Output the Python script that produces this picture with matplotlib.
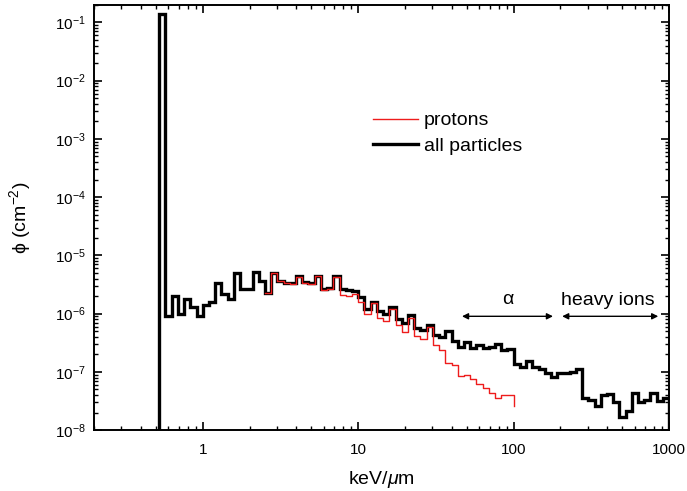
import matplotlib
matplotlib.use("Agg")
import matplotlib.pyplot as plt
from matplotlib.ticker import NullFormatter
import numpy as np

plt.rcParams['font.family'] = ['Liberation Sans', 'DejaVu Sans']
plt.rcParams['mathtext.fontset'] = 'custom'
plt.rcParams['mathtext.rm'] = 'Liberation Sans'
plt.rcParams['mathtext.it'] = 'Liberation Sans:italic'

# log bins, 25 per decade (edge k -> 10**(0.04*k))
bin_step = 0.04
k_all = np.arange(-7, 76)      # edges for all particles
k_prot = np.arange(10, 51)     # edges for protons

all_particles = [
    0.14, 9.0e-7, 2.0e-6, 1.0e-6, 1.8e-6, 1.3e-6, 9.0e-7,
    1.4e-6, 1.6e-6, 3.3e-6, 2.2e-6, 1.8e-6, 5.0e-6, 2.6e-6, 2.7e-6, 5.1e-6, 3.7e-6,
    2.3e-6, 5.0e-6, 3.6e-6, 3.4e-6, 3.3e-6, 4.4e-6, 3.5e-6, 3.4e-6, 4.5e-6, 2.7e-6,
    2.8e-6, 4.4e-6, 2.6e-6, 2.5e-6, 2.4e-6, 1.9e-6, 1.2e-6, 1.6e-6, 1.1e-6, 1.0e-6,
    1.3e-6, 8.0e-7, 7.0e-7, 9.5e-7, 5.6e-7, 5.2e-7, 6.3e-7, 4.3e-7, 4.0e-7, 5.0e-7,
    3.4e-7, 2.7e-7, 3.2e-7, 2.6e-7, 2.9e-7, 2.6e-7, 2.7e-7, 3.0e-7, 2.4e-7, 2.5e-7,
    1.35e-7, 1.2e-7, 1.55e-7, 1.2e-7, 1.1e-7, 9.5e-8, 8.3e-8, 9.5e-8, 9.5e-8, 1.0e-7,
    1.1e-7, 3.6e-8, 3.3e-8, 2.6e-8, 4.0e-8, 4.2e-8, 3.0e-8, 1.7e-8, 2.1e-8, 4.3e-8,
    3.0e-8, 3.3e-8, 4.4e-8, 3.2e-8, 3.5e-8,
]

protons = [
    2.3e-6, 5.0e-6, 3.6e-6, 3.3e-6, 3.2e-6, 4.3e-6, 3.3e-6, 3.2e-6, 4.4e-6, 2.5e-6,
    2.6e-6, 4.2e-6, 2.1e-6, 2.0e-6, 2.2e-6, 1.6e-6, 1.0e-6, 1.5e-6, 8.5e-7, 7.5e-7,
    1.2e-6, 6.5e-7, 4.8e-7, 8.5e-7, 4.2e-7, 3.6e-7, 5.8e-7, 2.9e-7, 2.4e-7, 1.4e-7,
    1.3e-7, 8.5e-8, 9.0e-8, 7.5e-8, 6.2e-8, 5.2e-8, 4.4e-8, 3.5e-8, 4.0e-8, 4.0e-8,
]
proton_tail = 2.6e-8

edges_all = 10 ** (k_all * bin_step)
edges_prot = 10 ** (k_prot * bin_step)

fig = plt.figure(figsize=(6.87, 4.91), dpi=100)
ax = fig.add_axes([0.137, 0.124, 0.837, 0.866])

# protons: open step line with a short drop at the last edge
xs = np.repeat(edges_prot, 2)[1:-1]
ys = np.repeat(protons, 2)
xs = np.append(xs, edges_prot[-1])
ys = np.append(ys, proton_tail)
ax.plot(xs, ys, color='#ee1c1c', lw=1.0, label='protons')

ax.stairs(all_particles, edges_all, baseline=1e-9, color='k', lw=2.4,
          label='all particles')

ax.set_xscale('log')
ax.set_yscale('log')
ax.set_xlim(0.2, 1000)
ax.set_ylim(1e-8, 0.2)
ax.set_xticks([1, 10, 100, 1000])
ax.set_xticklabels(['1', '10', '100', '1000'])
ax.xaxis.set_minor_formatter(NullFormatter())
ax.yaxis.set_minor_formatter(NullFormatter())

ax.tick_params(which='both', direction='in', top=True, right=True, labelsize=11)
ax.tick_params(axis='x', which='major', pad=9)
ax.tick_params(axis='y', which='major', pad=6)
ax.tick_params(which='major', length=6, width=1.2)
ax.tick_params(which='minor', length=3, width=1.0)
for s in ax.spines.values():
    s.set_linewidth(1.4)

ax.set_xlabel('keV/$\\mu$m', fontsize=14, labelpad=9)
ax.set_ylabel('ϕ (cm$^{-2}$)', fontsize=14, labelpad=16)

# particle ranges
arrow = dict(arrowstyle='<|-|>', color='k', lw=1.0, mutation_scale=9,
             shrinkA=0, shrinkB=0)
ax.annotate('', xy=(46.5, 9e-7), xytext=(179, 9e-7), arrowprops=arrow)
ax.annotate('', xy=(205, 9e-7), xytext=(851, 9e-7), arrowprops=arrow)
ax.text(92, 1.75e-6, 'α', fontsize=14, ha='center', va='center')
ax.text(405, 1.65e-6, 'heavy ions', fontsize=14, ha='center', va='center')

ax.legend(loc='upper left', bbox_to_anchor=(0.455, 0.79), frameon=False,
          fontsize=14, handlelength=2.3, handletextpad=0.3, labelspacing=0.4)

fig.savefig('out.png', dpi=100)
